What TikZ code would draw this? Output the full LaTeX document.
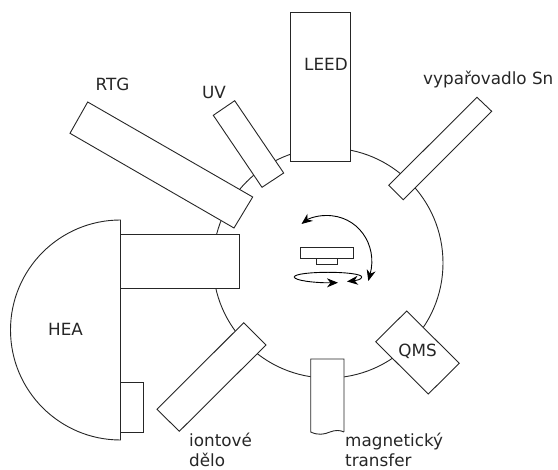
\documentclass[tikz,border=0pt]{standalone}
\usepackage{fontspec}
\setmainfont{DejaVu Sans}
\usetikzlibrary{arrows.meta}
\tikzset{
  x=1pt,y=-1pt,
  part/.style={draw=black!85,line width=0.9pt,fill=white,line join=miter},
  chamber/.style={draw=black!85,line width=0.9pt},
  lab/.style={font=\fontsize{16.8}{21}\selectfont,text=black!85,inner sep=0pt,align=left},
  rot/.style={draw=black,line width=0.9pt,{Stealth[length=11pt,width=9pt,inset=3.5pt]}-{Stealth[length=11pt,width=9pt,inset=3.5pt]}},
}
\begin{document}
\begin{tikzpicture}
\useasboundingbox (0,0) rectangle (558,470);
\draw[chamber] (328,263) circle[radius=115];
% sample
\draw[part] (300,247.3) rectangle (353.3,258.3);
\draw[part] (316.7,258.3) rectangle (337.3,264.7);
% ports
\draw[part] (290,12) rectangle (350.5,161.5);
\draw[part] (87.7,102) -- (70,133.3) -- (234,228) -- (252.7,197) -- cycle;
\draw[part] (234.7,100.7) -- (213.3,115.3) -- (262,187.3) -- (283.7,173) -- cycle;
\draw[part] (477,97.3) -- (388.7,185.3) -- (403.3,199.7) -- (491.7,111.3) -- cycle;
\draw[part] (243.7,322.7) -- (157,409.3) -- (179.3,431.3) -- (266,345) -- cycle;
\draw[part] (406.7,311) -- (375.7,341.7) -- (428.3,394) -- (459.3,363.3) -- cycle;
\draw[part] (344,432) -- (344,359) -- (310.7,359) -- (310.7,432) .. controls (318,435.5) and (324,434.5) .. (330,432) .. controls (335,430) and (340,430) .. (344,432);
% HEA
\draw[part] (120.5,220) arc[start angle=270,end angle=90,radius=110] -- cycle;
\draw[part] (120.5,234) rectangle (239,288);
\draw[part] (120.5,382.5) rectangle (143,432);
% rotations
\draw[rot] (368.3,281) .. controls (378,245) and (358,215) .. (326,215.5) .. controls (316,215.5) and (308,219) .. (301.5,224);
\draw[rot] (347,281.5) .. controls (356,280.5) and (361.7,279.5) .. (361.7,277) .. controls (361.7,274) and (345,272.3) .. (328,272.3) .. controls (311,272.3) and (294.3,274) .. (294.3,277) .. controls (294.3,280.5) and (315,283) .. (338,282.7);
% labels
\node[lab,anchor=base] (hea) at (65.5,336) {HEA};
\node[lab,anchor=base] (leed) at (326,71) {LEED};
\node[lab,anchor=base] (rtg) at (112.5,91) {RTG};
\node[lab,anchor=base] (uv) at (214,99) {UV};
\node[lab,anchor=base] (qms) at (417.5,357) {QMS};
\node[lab,anchor=base west] (sn) at (423,85) {vypařovadlo Sn};
\node[lab,anchor=base west] (iont) at (189,447) {iontové};
\node[lab,anchor=base west] (delo) at (189,466.5) {dělo};
\node[lab,anchor=base west] (mag) at (345,447) {magnetický};
\node[lab,anchor=base west] (tr) at (345,466.5) {transfer};
\end{tikzpicture}
\end{document}
